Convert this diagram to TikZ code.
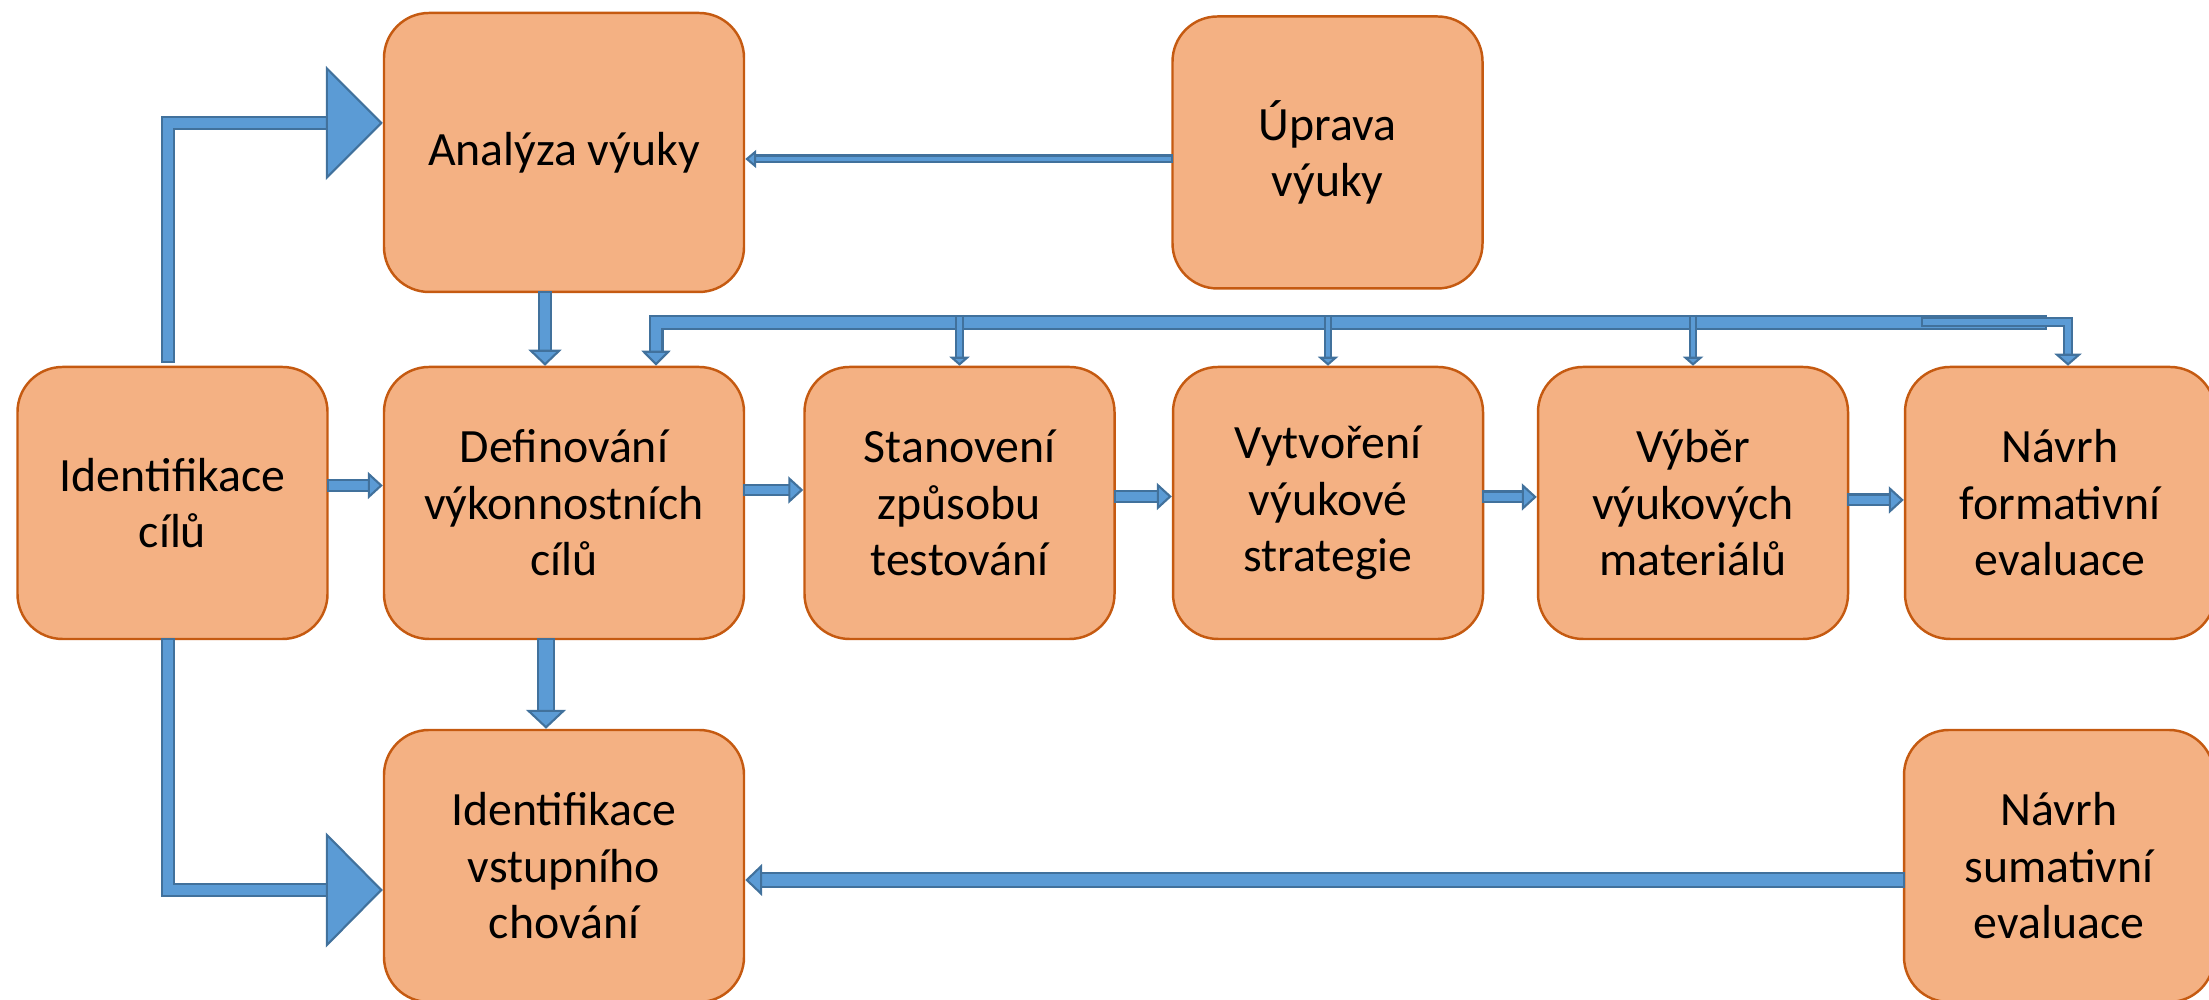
\documentclass[tikz,border=0pt]{standalone}
\usepackage{fontspec}
\setmainfont{Carlito}
\usetikzlibrary{arrows.meta}
\definecolor{boxfill}{HTML}{F4B183}
\definecolor{boxline}{HTML}{C55A11}
\definecolor{arrowfill}{HTML}{5B9BD5}
\definecolor{arrowline}{HTML}{41719C}

\begin{document}
\begin{tikzpicture}[
  krok/.style={draw=boxline, line width=0.7pt, fill=boxfill, rounded corners=4.5mm,
    minimum width=3.1cm, minimum height=2.72cm, align=center,
    font=\fontsize{13.6}{16.1}\selectfont},
  siroky/.style={krok, minimum width=3.6cm},
  blok/.style n args={3}{line width=#1-1.2pt, draw=arrowfill,
    -{Triangle[width=#2, length=#3, fill=arrowfill, color=arrowline, line width=0.6pt]},
    preaction={draw=arrowline, line width=#1, -, shorten >=#3-0.4pt, shorten <=-0.6pt}}
]
\useasboundingbox (0,0) rectangle (22.09,10);

% Boxes
\node[krok] (idcile) at (1.725,4.97) {Identifikace\\cílů};
\node[siroky, minimum height=2.79cm] (analyza) at (5.64,8.475) {Analýza výuky};
\node[krok] (uprava) at (13.275,8.475) {Úprava\\výuky};
\node[siroky] (definovani) at (5.64,4.97) {Definování\\výkonnostních\\cílů};
\node[krok] (stanoveni) at (9.595,4.97) {Stanovení\\způsobu\\testování};
\node[krok] (vytvoreni) at (13.28,4.97) {Vytvoření\\výukové\\strategie};
\node[krok] (vyber) at (16.93,4.97) {Výběr\\výukových\\materiálů};
\node[krok] (formativni) at (20.60,4.97) {Návrh\\formativní\\evaluace};
\node[siroky] (vstupni) at (5.64,1.34) {Identifikace\\vstupního\\chování};
\node[krok] (sumativni) at (20.59,1.34) {Návrh\\sumativní\\evaluace};

% Big arrows from the goals
\draw[blok={1.4mm}{11.4mm}{5.7mm}] ([xshift=-0.45mm, yshift=0.5mm]idcile.north) |- ([yshift=2.95mm]analyza.west);
\draw[blok={1.4mm}{11.5mm}{5.7mm}] ([xshift=-0.45mm]idcile.south) |- ([yshift=-2.4mm]vstupni.west);

% Row of steps
\draw[blok={1.3mm}{2.7mm}{1.5mm}] ([yshift=1.75mm]idcile.east) -- ([yshift=1.75mm]definovani.west);
\draw[blok={1.25mm}{2.7mm}{1.5mm}] ([yshift=1.3mm]definovani.east) -- ([yshift=1.3mm]stanoveni.west);
\draw[blok={1.3mm}{2.7mm}{1.5mm}] ([yshift=0.65mm]stanoveni.east) -- ([yshift=0.65mm]vytvoreni.west);
\draw[blok={1.3mm}{2.7mm}{1.5mm}] ([yshift=0.6mm]vytvoreni.east) -- ([yshift=0.6mm]vyber.west);
\draw[blok={1.3mm}{2.7mm}{1.5mm}] ([yshift=0.3mm]vyber.east) -- ([yshift=0.3mm]formativni.west);

% Vertical arrows in the second column
\draw[blok={1.4mm}{3.3mm}{1.6mm}] ([xshift=-1.9mm]analyza.south) -- ([xshift=-1.9mm]definovani.north);
\draw[blok={1.8mm}{4mm}{1.9mm}] ([xshift=-1.8mm]definovani.south) -- ([xshift=-1.8mm]vstupni.north);

% Feedback arrows
\draw[blok={0.9mm}{1.8mm}{1.1mm}] ([yshift=-0.65mm]uprava.west) -- ([yshift=-0.65mm]analyza.east);
\draw[blok={1.6mm}{3.2mm}{1.7mm}] ([yshift=-1.4mm]sumativni.west) -- ([yshift=-1.4mm]vstupni.west -| vstupni.east);

% Bus above the row
\coordinate (sbernice) at (20.45,6.775);
\coordinate (horni) at (0,6.83);
\coordinate (odbocka) at (19.23,6.78);
\draw[blok={1.5mm}{2.9mm}{1.5mm}] (sbernice) -| ([xshift=9.2mm]definovani.north);
\foreach \cil in {stanoveni, vytvoreni, vyber}
  \draw[blok={0.85mm}{2mm}{0.9mm}] (\cil.north |- horni) -- (\cil.north);
\draw[blok={1.05mm}{2.7mm}{1.2mm}] (odbocka) -| ([xshift=0.8mm]formativni.north);
\end{tikzpicture}
\end{document}
